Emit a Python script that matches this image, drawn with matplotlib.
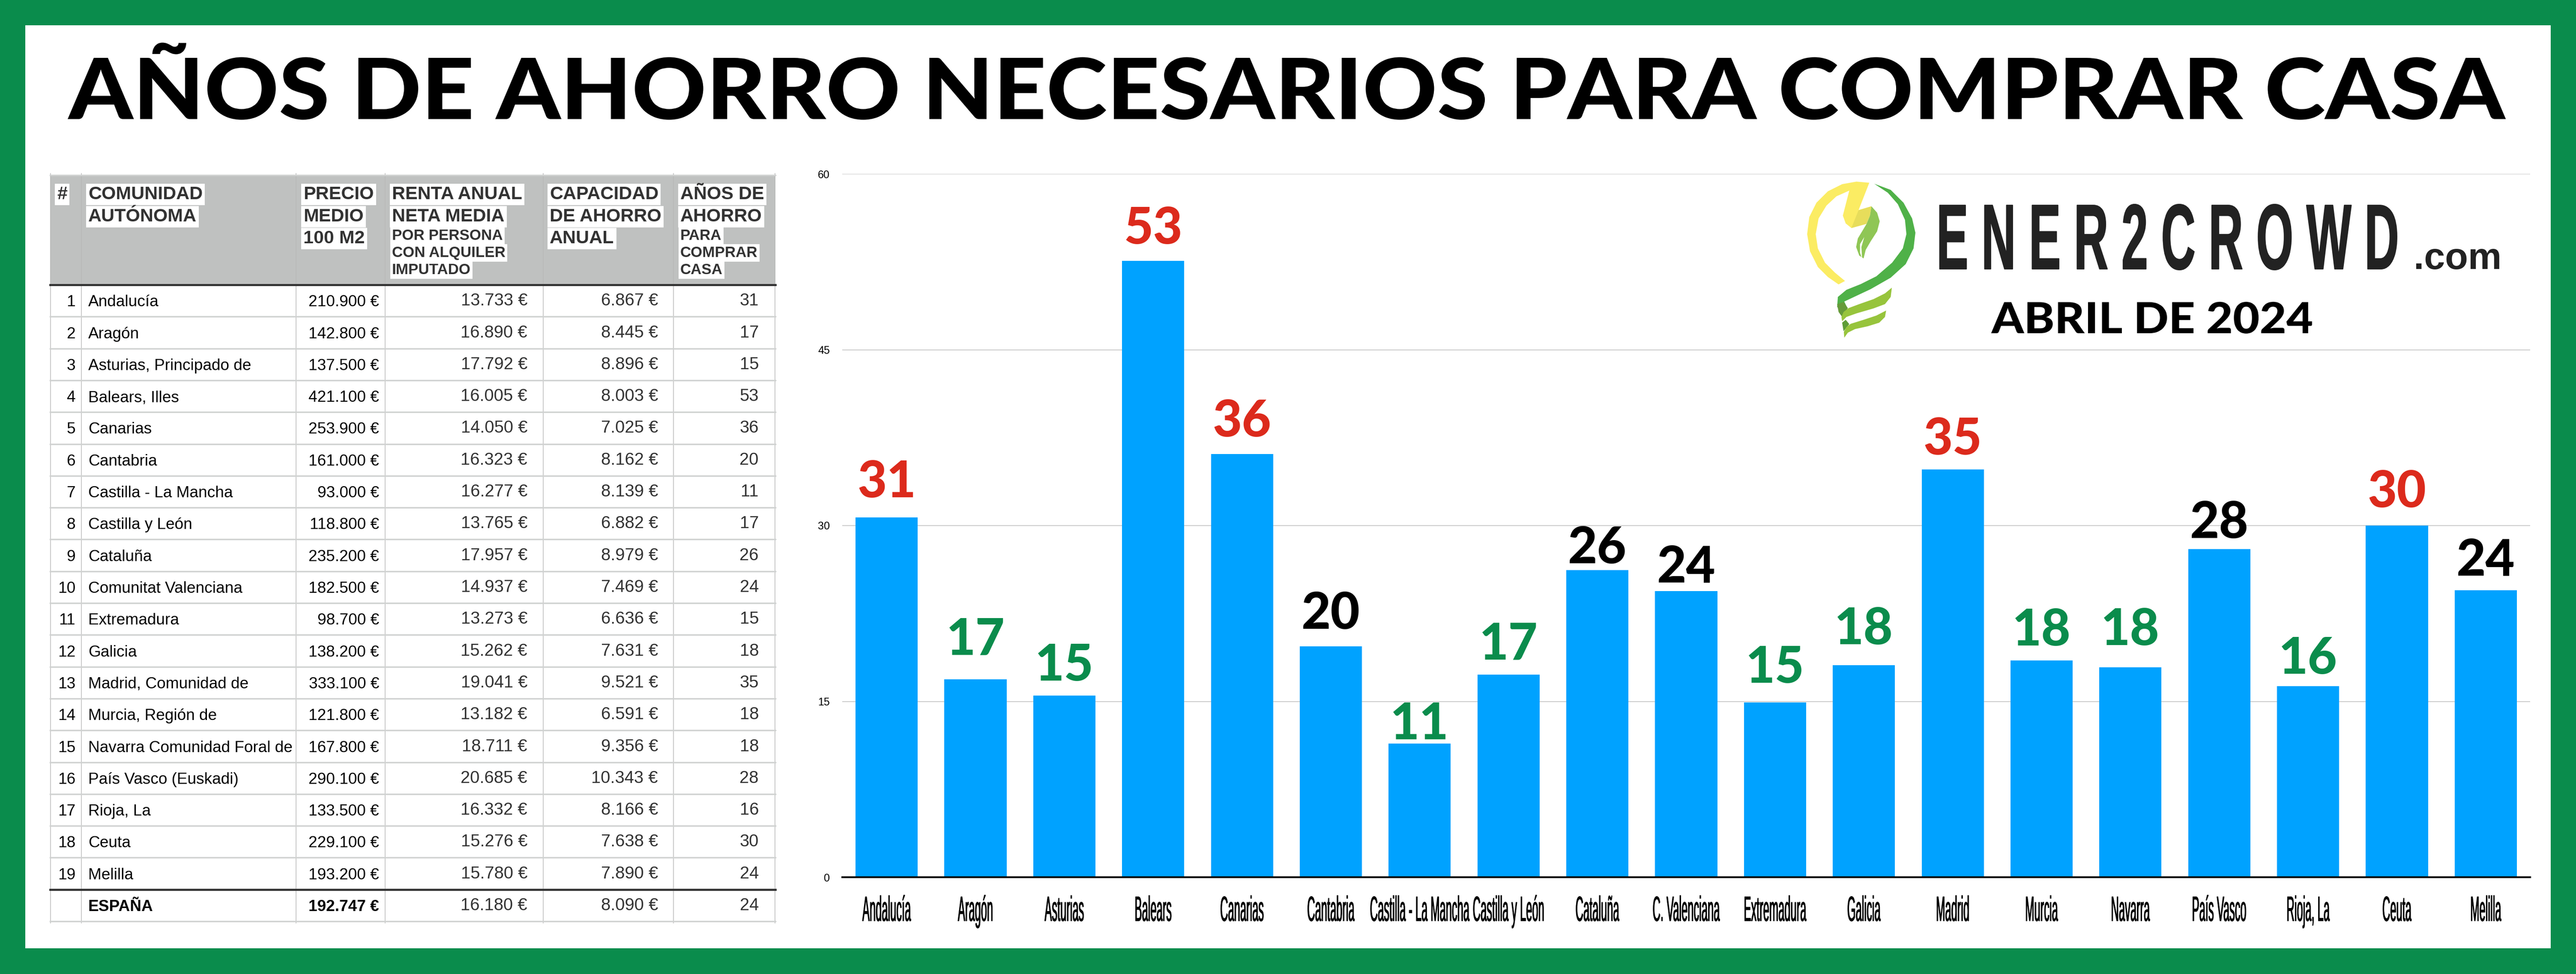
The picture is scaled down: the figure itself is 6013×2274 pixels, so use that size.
import matplotlib.pyplot as plt
import matplotlib.patheffects as pe
from matplotlib.patches import Polygon, Rectangle
from matplotlib.transforms import Affine2D

W, H = 6013, 2274

GREEN = "#0a8c4c"
RED = "#dc2a1c"
BLUE = "#00a2ff"

comunidades = ["Andalucía", "Aragón", "Asturias, Principado de", "Balears, Illes", "Canarias",
               "Cantabria", "Castilla - La Mancha", "Castilla y León", "Cataluña", "Comunitat Valenciana",
               "Extremadura", "Galicia", "Madrid, Comunidad de", "Murcia, Región de",
               "Navarra Comunidad Foral de", "País Vasco (Euskadi)", "Rioja, La", "Ceuta", "Melilla"]
precios = ["210.900 €", "142.800 €", "137.500 €", "421.100 €", "253.900 €", "161.000 €", "93.000 €",
           "118.800 €", "235.200 €", "182.500 €", "98.700 €", "138.200 €", "333.100 €", "121.800 €",
           "167.800 €", "290.100 €", "133.500 €", "229.100 €", "193.200 €"]
rentas = ["13.733 €", "16.890 €", "17.792 €", "16.005 €", "14.050 €", "16.323 €", "16.277 €",
          "13.765 €", "17.957 €", "14.937 €", "13.273 €", "15.262 €", "19.041 €", "13.182 €",
          "18.711 €", "20.685 €", "16.332 €", "15.276 €", "15.780 €"]
ahorros = ["6.867 €", "8.445 €", "8.896 €", "8.003 €", "7.025 €", "8.162 €", "8.139 €",
           "6.882 €", "8.979 €", "7.469 €", "6.636 €", "7.631 €", "9.521 €", "6.591 €",
           "9.356 €", "10.343 €", "8.166 €", "7.638 €", "7.890 €"]
anos = [31, 17, 15, 53, 36, 20, 11, 17, 26, 24, 15, 18, 35, 18, 18, 28, 16, 30, 24]
espana = ["ESPAÑA", "192.747 €", "16.180 €", "8.090 €", "24"]

etiquetas = ["Andalucía", "Aragón", "Asturias", "Balears", "Canarias", "Cantabria", "Castilla - La Mancha",
             "Castilla y León", "Cataluña", "C. Valenciana", "Extremadura", "Galicia", "Madrid", "Murcia",
             "Navarra", "País Vasco", "Rioja, La", "Ceuta", "Melilla"]
barras = [30.7, 16.9, 15.5, 52.6, 36.1, 19.7, 11.4, 17.3, 26.2, 24.4, 14.9, 18.1, 34.8, 18.5, 17.9,
          28.0, 16.3, 30.0, 24.5]

# pixels between a bar and its number, they were placed by hand
huecos = [47, 57, 35, 40, 41, 41, 10, 35, 16, 21, 46, 49, 35, 35, 52, 26, 29, 43, 34]

# x, baseline, text, big or small
cabecera = [(133, 465, "#", True),
            (206, 465, "COMUNIDAD", True), (206, 517, "AUTÓNOMA", True),
            (708, 465, "PRECIO", True), (708, 517, "MEDIO", True), (708, 568, "100 M2", True),
            (915, 465, "RENTA ANUAL", True), (915, 517, "NETA MEDIA", True), (915, 560, "POR PERSONA", False),
            (915, 600, "CON ALQUILER", False), (915, 640, "IMPUTADO", False),
            (1283, 465, "CAPACIDAD", True), (1283, 517, "DE AHORRO", True), (1283, 568, "ANUAL", True),
            (1588, 465, "AÑOS DE", True), (1588, 517, "AHORRO", True), (1588, 560, "PARA", False),
            (1588, 600, "COMPRAR", False), (1588, 640, "CASA", False)]

# logo outlines, in pixels of the reference crop
bombilla = [("#fbec63", [(490, 80), (400, 72), (300, 90), (200, 140), (120, 220), (70, 320), (55, 440), (75, 560),
                         (130, 670), (200, 740), (275, 792), (320, 768), (250, 710), (180, 640), (130, 540),
                         (115, 440), (135, 330), (190, 240), (260, 175), (350, 135), (305, 310), (325, 365),
                         (365, 397), (470, 368), (505, 245), (415, 272)]),
            ("#e7dd5b", [(415, 272), (505, 245), (495, 310), (470, 368), (365, 397)]),
            ("#4fb148", [(525, 87), (640, 130), (730, 220), (790, 330), (813, 430), (800, 540), (745, 650),
                         (640, 745), (500, 825), (315, 912), (335, 955), (300, 985), (265, 950), (270, 880),
                         (330, 830), (430, 790), (540, 735), (650, 640), (725, 540), (750, 440), (740, 340),
                         (690, 230), (620, 150)]),
            ("#669a3a", [(265, 930), (310, 915), (340, 958), (300, 1020), (275, 985)]),
            ("#5d9c36", [(300, 1060), (325, 1040), (350, 1070), (310, 1120)]),
            ("#97c43c", [(648, 815), (640, 880), (600, 930), (520, 960), (400, 995), (330, 1020), (300, 1050),
                         (295, 1020), (310, 985), (345, 958), (420, 930), (520, 895), (600, 855)]),
            ("#97c43c", [(608, 975), (600, 1020), (560, 1060), (480, 1085), (390, 1105), (340, 1130), (315, 1165),
                         (312, 1125), (330, 1090), (360, 1068), (450, 1040), (540, 1010)]),
            ("#8fc655", [(505, 245), (545, 290), (563, 350), (545, 420), (500, 490), (465, 550), (450, 610),
                         (420, 590), (398, 530), (410, 470), (470, 370), (495, 310)]),
            ("white", [(455, 460), (425, 510), (425, 570), (440, 615), (435, 530)])]


class Squeeze(pe.AbstractPathEffect):
    """Draw a text stretched around its middle and its baseline, thicker if asked."""

    def __init__(self, sx, sy=1.0, lw=0.0):
        super().__init__()
        self.sx = sx
        self.sy = sy
        self.lw = lw

    def draw_path(self, renderer, gc, tpath, affine, rgbFace=None):
        cx = tpath.get_extents().x0 + tpath.get_extents().width / 2
        squeeze = Affine2D().translate(-cx, 0).scale(self.sx, self.sy).translate(cx, 0)
        gc0 = renderer.new_gc()
        gc0.copy_properties(gc)
        gc0.set_linewidth(self.lw)
        gc0.set_foreground(rgbFace)
        renderer.draw_path(gc0, tpath, squeeze + affine, rgbFace)
        gc0.restore()


def px(size):
    """Font size in points from a size in pixels."""
    return size * 0.72


def run():
    """
    Draw the whole picture.
    Table and logo go on a full page axes counted in pixels, bars on their own axes.
    """
    plt.rcParams["font.family"] = ["Liberation Sans", "DejaVu Sans"]
    plt.figure(figsize=(W / 100, H / 100), dpi=100, facecolor=GREEN)

    page = plt.axes([0, 0, 1, 1])
    plt.xlim(0, W)
    plt.ylim(H, 0)
    plt.axis("off")
    page.add_patch(Rectangle((59, 59), 5895, 2155, color="white", lw=0))

    title = plt.text(3004, 278, "AÑOS DE AHORRO NECESARIOS PARA COMPRAR CASA", ha="center", va="baseline",
                     fontsize=px(197), family="Lato", weight="black")
    title.set_path_effects([Squeeze(1.09)])

    # Table header and lines.
    page.add_patch(Rectangle((117, 409), 1693, 256, color="#bfc1c0", lw=0))
    for x, y, text, big in cabecera:
        plt.text(x, y, text, va="baseline", fontsize=px(43 if big else 35), weight="bold", color="#333333",
                 bbox=dict(boxstyle="square,pad=0.12", facecolor="white", edgecolor="none"))
    for i in range(21):
        y = 665 + i * 74.3
        if i == 0 or i == 19:
            plt.plot([117, 1810], [y, y], color="#333333", lw=3.5)
        else:
            plt.plot([117, 1810], [y, y], color="#d0d2d1", lw=2.5)
    plt.plot([117, 1810], [409, 409], color="#d0d2d1", lw=2.5)
    for x in [118, 190, 691, 899, 1268, 1572, 1809]:
        plt.plot([x, x], [405, 2155], color="#b8b8b8", lw=1.1, zorder=1)

    # Table rows.
    for i in range(19):
        bottom = 665 + (i + 1) * 74.3
        plt.text(176, bottom - 24, str(i + 1), ha="right", va="baseline", fontsize=px(37))
        plt.text(206, bottom - 24, comunidades[i], va="baseline", fontsize=px(37))
        plt.text(885, bottom - 24, precios[i], ha="right", va="baseline", fontsize=px(37))
        plt.text(1231, bottom - 26, rentas[i], ha="right", va="baseline", fontsize=px(40), color="#333333")
        plt.text(1536, bottom - 26, ahorros[i], ha="right", va="baseline", fontsize=px(40), color="#333333")
        plt.text(1771, bottom - 26, str(anos[i]), ha="right", va="baseline", fontsize=px(40), color="#333333")
    bottom = 2151
    plt.text(206, bottom - 24, espana[0], va="baseline", fontsize=px(37), weight="bold")
    plt.text(885, bottom - 24, espana[1], ha="right", va="baseline", fontsize=px(37), weight="bold")
    plt.text(1231, bottom - 26, espana[2], ha="right", va="baseline", fontsize=px(40), color="#333333")
    plt.text(1536, bottom - 26, espana[3], ha="right", va="baseline", fontsize=px(40), color="#333333")
    plt.text(1771, bottom - 26, espana[4], ha="right", va="baseline", fontsize=px(40), color="#333333")

    # Logo.
    for color, points in bombilla:
        page.add_patch(Polygon([(4200 + x / 3, 400 + y / 3) for x, y in points], closed=True, color=color, lw=0))
    logo = plt.text(5060, 628, "E N E R 2 C R O W D", ha="center", va="baseline", fontsize=px(111),
                    weight="bold", color="#222222")
    logo.set_path_effects([Squeeze(1.0, 1.95, 1.5)])
    plt.text(5737, 628, ".com", ha="center", va="baseline", fontsize=px(88), weight="bold", color="#222222")
    date = plt.text(5024, 778, "ABRIL DE 2024", ha="center", va="baseline", fontsize=px(100),
                    family="Lato", weight="black")
    date.set_path_effects([Squeeze(1.077)])

    # Bars.
    plt.axes([1966 / W, (H - 2048) / H, 3940 / W, 1642 / H], facecolor="none")
    plt.bar(range(19), barras, width=0.7, color=BLUE, zorder=2)
    plt.xlim(-0.5, 18.5)
    plt.ylim(0, 60)
    plt.grid(axis="y", color="#cccccc", lw=1.5, zorder=0)
    plt.yticks([0, 15, 30, 45, 60], fontsize=px(25))
    plt.xticks(range(19), etiquetas, fontsize=px(26), va="baseline")
    plt.tick_params(axis="y", length=0, pad=px(29))
    plt.tick_params(axis="x", length=0, pad=px(102))
    for label in plt.gca().get_xticklabels():
        label.set_path_effects([Squeeze(0.98, 3.15, 0.8)])
    for side in ["top", "left", "right"]:
        plt.gca().spines[side].set_visible(False)
    plt.gca().spines["bottom"].set_linewidth(3)
    plt.gca().spines["bottom"].set_zorder(3)

    # Numbers over the bars: red from 30 years, black from 20, green below.
    for i in range(19):
        color = RED if anos[i] >= 30 else "black" if anos[i] >= 20 else GREEN
        plt.annotate(str(anos[i]), (i, barras[i]), xytext=(0, px(huecos[i])), textcoords="offset points",
                     ha="center", va="baseline", fontsize=px(118), family="Lato", weight="black", color=color)

    plt.savefig("out.png", dpi=100, facecolor=GREEN)
    plt.close()


run()
